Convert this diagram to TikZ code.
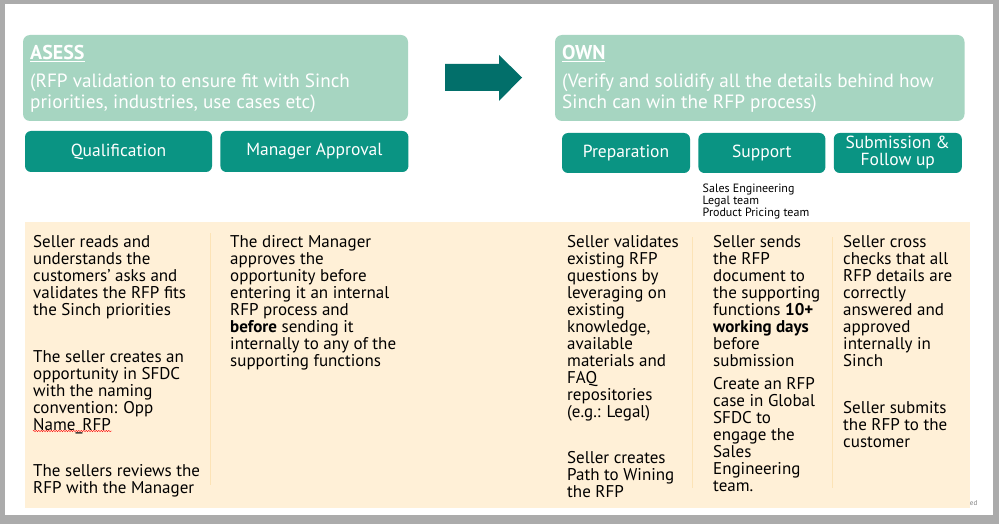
\documentclass[tikz,border=0pt]{standalone}
\usepackage{fontspec}
\setmainfont{PT Sans}
\usetikzlibrary{positioning,decorations.pathmorphing}

\definecolor{pagegray}{HTML}{ABABAB}
\definecolor{hdrgreen}{HTML}{A6D5C1}
\definecolor{btnteal}{HTML}{0A9483}
\definecolor{arrowteal}{HTML}{026F6A}
\definecolor{creamfill}{HTML}{FFF0D7}
\definecolor{divorange}{HTML}{FCE3B6}

\newcommand{\bodyfont}{\fontsize{17}{17}\selectfont}
\newcommand{\hdrfont}{\fontsize{19.2}{21}\selectfont}
\newcommand{\fstrut}{\rule{0pt}{1em}}

\tikzset{
  hdrbox/.style={fill=hdrgreen,rounded corners=7pt},
  btn/.style={fill=btnteal,rounded corners=6pt,text=white,inner sep=0pt,
    align=center,font=\fontsize{17.5}{17}\selectfont},
  hdrtext/.style={anchor=north west,inner sep=0pt,align=left,text=white,font=\hdrfont},
  body/.style={anchor=north west,inner sep=0pt,align=left,font=\bodyfont},
  divline/.style={draw=divorange,line width=0.9pt}
}

\begin{document}
\begin{tikzpicture}[x=1pt,y=-1pt]
% page
\fill[pagegray] (0,0) rectangle (999,524);
\fill[white] (5,4) rectangle (992.5,514.5);
% header boxes
\fill[hdrbox] (23,35) rectangle (408,121);
\fill[hdrbox] (555,35) rectangle (964.5,121);
\node[hdrtext,font=\bfseries\fontsize{20}{21}\selectfont] (asess) at (30,39) {\fstrut\underline{ASESS}};
\node[hdrtext] (asessdesc) at (30,67.8) {\fstrut(RFP validation to ensure fit with Sinch\\priorities, industries, use cases etc)};
\node[hdrtext,font=\bfseries\fontsize{20}{21}\selectfont] (own) at (562,39) {\fstrut\underline{OWN}};
\node[hdrtext] (owndesc) at (562,67.8) {\fstrut(Verify and solidify all the details behind how\\Sinch can win the RFP process)};
% arrow between phases
\fill[arrowteal] (445,64) -- (499,64) -- (499,55) -- (522,77.5) -- (499,101)
  -- (499,91) -- (445,91) -- cycle;
% step buttons
\node[btn,minimum width=187pt,minimum height=41pt] (qual) at (118.5,151.5) {Qualification};
\node[btn,minimum width=188pt,minimum height=41pt,right=8pt of qual] (mgr) {Manager Approval};
\node[btn,minimum width=128pt,minimum height=40pt] (prep) at (626,153) {Preparation};
\node[btn,minimum width=127pt,minimum height=40pt,right=8pt of prep] (supp) {Support};
\node[btn,minimum width=128pt,minimum height=40pt,right=8pt of supp] (subm) {Submission \&\\Follow up};
\node[anchor=north west,inner sep=0pt,align=left,font=\fontsize{12}{12}\selectfont]
  (teams) at (702.5,180.7) {\fstrut Sales Engineering\\Legal team\\Product Pricing team};
% details area
\node[anchor=base east,inner sep=0pt,text=gray,font=\fontsize{7}{8}\selectfont] (edfrag) at (977.5,505.5) {ed};
\fill[creamfill] (25,222) rectangle (970,508);
\draw[divline] (210.5,233) -- (210.5,485);
\draw[divline] (692.5,237) -- (692.5,488);
\draw[divline] (832,237) -- (832,488);
% column texts
\node[body] (qual1) at (33,230) {\fstrut Seller reads and\\understands the\\customers’ asks and\\validates the RFP fits\\the Sinch priorities};
\node[body] (qual2) at (33,345.7) {\fstrut The seller creates an\\opportunity in SFDC\\with the naming\\convention: Opp\\Name\_RFP};
\node[body] (qual3) at (33,459.7) {\fstrut The sellers reviews the\\RFP with the Manager};
\draw[red,decorate,decoration={snake,amplitude=0.7pt,segment length=2.5pt}] (33,431) -- (112,431);
\node[body] (mgr1) at (230,230) {\fstrut The direct Manager\\approves the\\opportunity before\\entering it an internal\\RFP process and\\\textbf{before} sending it\\internally to any of the\\supporting functions};
\node[body] (prep1) at (567,230) {\fstrut Seller validates\\existing RFP\\questions by\\leveraging on\\existing\\knowledge,\\available\\materials and\\FAQ\\repositories\\(e.g.: Legal)};
\node[body] (prep2) at (567,446) {\fstrut Seller creates\\Path to Wining\\the RFP};
\node[body] (supp1) at (713,230) {\fstrut Seller sends\\the RFP\\document to\\the supporting\\functions \textbf{10+}\\\textbf{working days}\\before\\submission};
\node[body] (supp2) at (713,372) {\fstrut Create an RFP\\case in Global\\SFDC to\\engage the\\Sales\\Engineering\\team.};
\node[body] (subm1) at (843,230) {\fstrut Seller cross\\checks that all\\RFP details are\\correctly\\answered and\\approved\\internally in\\Sinch};
\node[body] (subm2) at (843,396) {\fstrut Seller submits\\the RFP to the\\customer};
\end{tikzpicture}
\end{document}
